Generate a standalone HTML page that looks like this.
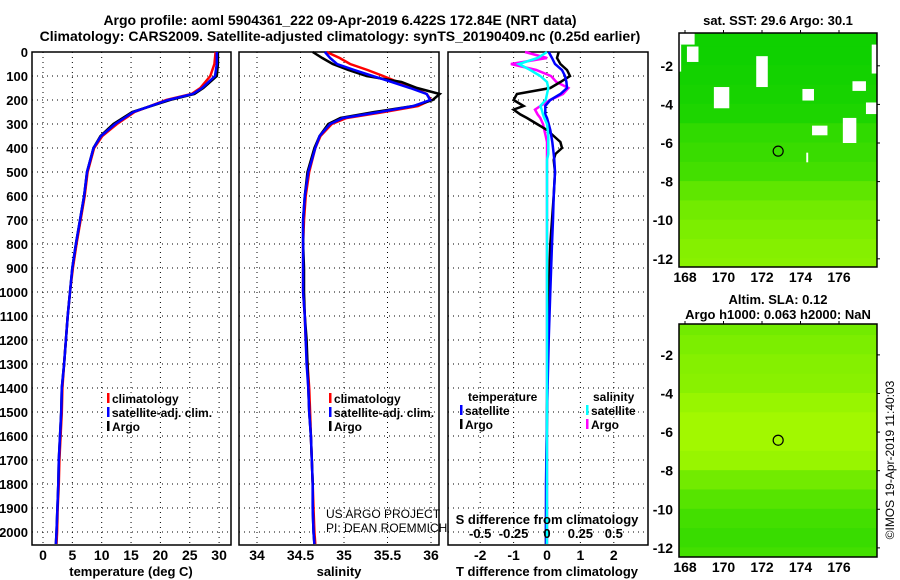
<!DOCTYPE html>
<html><head><meta charset="utf-8"><style>
html,body{margin:0;padding:0;background:#fff;}
svg{display:block;font-family:"Liberation Sans",sans-serif;font-weight:bold;}
</style></head><body>
<svg id="chart" width="900" height="580" viewBox="0 0 900 580"></svg>
<script>
// ---- data ----
const depthT = [0,50,100,150,175,200,250,300,350,400,500,600,700,800,900,1000,1100,1200,1300,1400,1500,1600,1700,1800,1900,2000,2050];
const tempSat = [29.6,29.6,29.3,27.1,25.5,21.3,15.4,12.3,9.9,8.6,7.5,7.0,6.3,5.6,5.0,4.6,4.2,3.9,3.6,3.2,3.1,2.9,2.7,2.6,2.45,2.3,2.2];
const tempClim = [29.4,29.2,28.5,26.8,25.3,21.0,15.6,12.6,10.1,8.7,7.6,7.1,6.4,5.7,5.1,4.6,4.2,3.9,3.6,3.3,3.2,3.0,2.8,2.7,2.5,2.4,2.3];
const tempArgo = [29.8,29.8,29.6,27.3,25.8,21.6,15.2,12.0,9.8,8.6,7.5,7.0,6.3,5.6,5.0,4.6,4.2,3.9,3.6,3.2,3.1,2.9,2.7,2.6,2.45,2.3,2.2];
const depthS = [0,25,50,75,100,125,150,175,200,225,250,275,300,350,400,500,600,700,800,900,1000,1100,1200,1300,1400,1500,1600,1700,1800,1900,2000,2050];
const salSat = [34.78,34.84,34.92,35.12,35.33,35.55,35.76,35.95,35.99,35.8,35.41,34.99,34.84,34.72,34.67,34.59,34.55,34.53,34.53,34.53,34.53,34.55,34.56,34.57,34.59,34.6,34.62,34.63,34.64,34.64,34.65,34.66];
const salClim = [34.8,34.95,35.07,35.27,35.45,35.62,35.8,35.95,36.0,35.85,35.46,35.03,34.86,34.73,34.67,34.6,34.56,34.54,34.53,34.53,34.53,34.55,34.56,34.58,34.6,34.61,34.62,34.63,34.64,34.65,34.66,34.67];
const salArgo = [34.64,34.75,34.87,35.05,35.26,35.66,35.84,36.1,36.02,35.8,35.35,34.96,34.82,34.72,34.66,34.58,34.55,34.53,34.53,34.54,34.54,34.55,34.57,34.58,34.59,34.6,34.62,34.63,34.64,34.64,34.65,34.66];
const depthD = [0,25,50,75,100,125,150,175,200,225,240,260,275,300,325,350,375,400,425,450,500,600,700,800,1000,1200,1500,1800,2000,2050];
const tDiffSat = [0.05,0.15,0.24,0.45,0.54,0.58,0.6,0.4,0.1,-0.05,-0.05,-0.05,0.0,0.05,0.1,0.13,0.16,0.18,0.2,0.22,0.24,0.2,0.18,0.15,0.1,0.05,0.0,-0.03,-0.03,-0.03];
const tDiffArgo = [0.35,0.3,0.4,0.6,0.69,0.4,0.1,-0.9,-1.0,-0.7,-1.0,-0.8,-0.6,-0.3,0.0,0.2,0.4,0.45,0.25,0.2,0.24,0.2,0.15,0.1,0.05,0.02,0.0,-0.02,-0.03,-0.03];
const sDiffArgo = [-0.165,0.0,-0.27,-0.08,0.03,0.07,0.16,0.12,0.025,-0.05,-0.09,-0.07,-0.05,-0.03,-0.02,-0.01,0.0,0.0,0.0,0.0,0.0,0.0,0.0,0.0,0.0,0.0,0.0,0.0,0.0,0.0];
const sDiffSat = [0.0,-0.07,-0.21,-0.125,-0.05,0.0,0.01,0.0,-0.01,-0.05,-0.04,-0.03,-0.02,0.0,0.005,0.01,0.01,0.01,0.01,0.0,0.0,0.0,0.0,0.0,0.0,0.0,0.0,0.0,0.0,0.0];
const depthTicks = [0,100,200,300,400,500,600,700,800,900,1000,1100,1200,1300,1400,1500,1600,1700,1800,1900,2000];
const tempTicks = [0,5,10,15,20,25,30];
const salTicks = [34,34.5,35,35.5,36];
const tdTicks = [-2,-1,0,1,2];
const sdTicks = [-0.5,-0.25,0,0.25,0.5];
const lonTicks = [168,170,172,174,176];
const latTicks = [-2,-4,-6,-8,-10,-12];
const sstRows = [0.08,0.08,0.1,0.12,0.15,0.25,0.3,0.35,0.5,0.6,0.65,0.7,0.72];
const slaRows = [0.6,0.65,0.7,0.72,0.8,0.85,0.85,0.8,0.6,0.45,0.35,0.3,0.35];
const argoLon = 172.84, argoLat = -6.422;

const svg = document.getElementById('chart');
const NS = 'http://www.w3.org/2000/svg';
function mk(tag, attrs, parent){const e=document.createElementNS(NS,tag);for(const k in attrs)e.setAttribute(k,attrs[k]);(parent||svg).appendChild(e);return e;}
function txt(x,y,s,attrs){const e=mk('text',Object.assign({x:x,y:y,'font-size':13},attrs||{}));e.textContent=s;return e;}

const Y0=52, YS=0.24, PB=545;
const yD = d => Y0 + d*YS;
const xT = v => 43 + v*5.87;
const xS = v => 257 + (v-34)*87;
const xTD = v => 547 + v*33.4;
const xSD = v => 547 + v*133.6;

function panel(name,left,right,xfn,ticks,labels){
  const g=mk('g',{});
  
  
  depthTicks.forEach(d=>{ if(d>0) mk('line',{x1:left,x2:right,y1:yD(d),y2:yD(d),stroke:'#000','stroke-width':1,'stroke-dasharray':'1,4'},g);});
  ticks.forEach(t=>{ mk('line',{x1:xfn(t),x2:xfn(t),y1:Y0,y2:PB,stroke:'#000','stroke-width':1,'stroke-dasharray':'1,4'},g);});
  if(labels) ticks.forEach((t,i)=>{const e=txt(xfn(t),560,labels[i],{'text-anchor':'middle','font-size':14},g);   g.appendChild(e);});
  mk('rect',{x:left,y:Y0,width:right-left,height:PB-Y0,fill:'none',stroke:'#000','stroke-width':1.5},g);
  return g;
}
function line(g,xs,ds,xfn,col,w,name){
  const p=xs.map((v,i)=>(i?'L':'M')+xfn(v).toFixed(1)+','+yD(ds[i]).toFixed(1)).join('');
  const e=mk('path',{d:p,fill:'none',stroke:col,'stroke-width':w||2.5},g);
  
  
}
let e=txt(340,25,'Argo profile: aoml 5904361_222 09-Apr-2019 6.422S 172.84E (NRT data)',{'text-anchor':'middle','font-size':14});

e=txt(340,41,'Climatology: CARS2009. Satellite-adjusted climatology: synTS_20190409.nc (0.25d earlier)',{'text-anchor':'middle','font-size':14});

depthTicks.forEach(d=>{const t=txt(28,yD(d)+5,String(d),{'text-anchor':'end','font-size':13});});

const g1=panel('temperature-panel',32,231,xT,tempTicks,tempTicks.map(String));
line(g1,tempClim,depthT,xT,'#f00',2.5,'temp-climatology-line');
line(g1,tempArgo,depthT,xT,'#000',2.5,'temp-argo-line');
line(g1,tempSat,depthT,xT,'#00f',2.5,'temp-satellite-line');
e=txt(131,576,'temperature (deg C)',{'text-anchor':'middle','font-size':13});
function legend(x,y,items){items.forEach((it,i)=>{const r=mk('rect',{x:x,y:y+i*14-10,width:2.5,height:10,fill:it[0]});const t=txt(x+5,y+i*14,it[1],{'font-size':12});});}
legend(107,403,[['#f00','climatology'],['#00f','satellite-adj. clim.'],['#000','Argo']]);

const g2=panel('salinity-panel',239,439,xS,salTicks,['34','34.5','35','35.5','36']);
line(g2,salClim,depthS,xS,'#f00',2.5,'sal-climatology-line');
line(g2,salArgo,depthS,xS,'#000',2.5,'sal-argo-line');
line(g2,salSat,depthS,xS,'#00f',2.5,'sal-satellite-line');
e=txt(339,576,'salinity',{'text-anchor':'middle','font-size':13});
legend(329,403,[['#f00','climatology'],['#00f','satellite-adj. clim.'],['#000','Argo']]);
e=txt(326,518,'US ARGO PROJECT',{'font-size':12,'font-weight':'normal'});
e=txt(326,532,'PI: DEAN ROEMMICH',{'font-size':12,'font-weight':'normal'});

const g3=panel('difference-panel',448,648,xTD,tdTicks,['-2','-1','0','1','2']);
line(g3,sDiffArgo,depthD,xSD,'#f0f',2.5,'sdiff-argo-line');
line(g3,tDiffArgo,depthD,xTD,'#000',2.5,'tdiff-argo-line');
line(g3,tDiffSat,depthD,xTD,'#00f',2.5,'tdiff-satellite-line');
line(g3,sDiffSat,depthD,xSD,'#0ff',2.5,'sdiff-satellite-line');
e=txt(547,576,'T difference from climatology',{'text-anchor':'middle','font-size':13});
e=txt(547,524,'S difference from climatology',{'text-anchor':'middle','font-size':13});
['-0.5','-0.25','0','0.25','0.5'].forEach((s,i)=>{const t=txt(xSD(sdTicks[i]),538,s,{'text-anchor':'middle','font-size':13});});
e=txt(468,401,'temperature',{'font-size':12});
e=txt(593,401,'salinity',{'font-size':12});
legend(460,415,[['#00f','satellite'],['#000','Argo']]);
legend(586,415,[['#0ff','satellite'],['#f0f','Argo']]);

function colorFor(v){const r=Math.round(0+v*190), gg=Math.round(205+v*50); return 'rgb('+r+','+gg+',0)';}
function map(name,top,bottom,latTop,rows,title1,title2,holes){
  const left=679,right=877,ps=19.3;
  const xL=lon=>685+(lon-168)*19.25, yL=lat=>top+(latTop-lat)*ps;
  const g=mk('g',{});
  
  const clip=mk('clipPath',{id:name+'-clip'},g);mk('rect',{x:left,y:top,width:right-left,height:bottom-top},clip);
  const cg=mk('g',{'clip-path':'url(#'+name+'-clip)'},g);
  rows.forEach((v,i)=>{const c=mk('rect',{x:left,y:yL(-0.5-i)-ps/2-0.5,width:right-left,height:ps+1,fill:colorFor(v)},cg);});
  (holes||[]).forEach(h=>{mk('rect',{x:xL(h[0]),y:yL(h[1]),width:h[2]*19.25,height:h[3]*ps,fill:'#fff'},cg);});
  mk('rect',{x:left,y:top,width:right-left,height:bottom-top,fill:'none',stroke:'#000','stroke-width':1.5},g);
  const c=mk('circle',{cx:xL(argoLon),cy:yL(argoLat),r:5,fill:'none',stroke:'#000','stroke-width':1.2},g);
  
  lonTicks.forEach(l=>{const t=txt(xL(l),bottom+15,String(l),{'text-anchor':'middle','font-size':14},g);g.appendChild(t);mk('line',{x1:xL(l),x2:xL(l),y1:top,y2:top-3,stroke:'#000'},g);});
  latTicks.forEach(l=>{const t=txt(left-6,yL(l)+5,String(l),{'text-anchor':'end','font-size':14},g);g.appendChild(t);mk('line',{x1:right,x2:right+3,y1:yL(l),y2:yL(l),stroke:'#000'},g);});
  let tt=txt(778,top-(title2?20:8),title1,{'text-anchor':'middle','font-size':13},g);g.appendChild(tt);
  if(title2){tt=txt(778,top-5,title2,{'text-anchor':'middle','font-size':13},g);g.appendChild(tt);}
}
map('sst-map',33,267,-0.3,sstRows,'sat. SST: 29.6 Argo: 30.1',null,
 [[167.7,-0.3,0.8,0.6],[167.7,-0.9,0.1,1.4],[168.1,-1.0,0.6,0.8],[169.5,-3.1,0.8,1.1],[171.7,-1.5,0.6,1.6],[174.1,-3.2,0.6,0.6],[176.2,-4.7,0.7,1.3],[174.6,-5.1,0.8,0.5],[177.4,-3.9,0.6,0.6],[177.7,-0.9,0.3,1.5],[176.7,-2.8,0.7,0.5],[174.3,-6.5,0.1,0.5]]);
map('sla-map',324,557,-0.4,slaRows,'Altim. SLA: 0.12','Argo h1000: 0.063 h2000: NaN',[]);
e=txt(0,0,'©IMOS 19-Apr-2019 11:40:03',{'font-size':12,'font-weight':'normal','text-anchor':'middle',transform:'translate(894,460) rotate(-90)'});

</script>
</body></html>
